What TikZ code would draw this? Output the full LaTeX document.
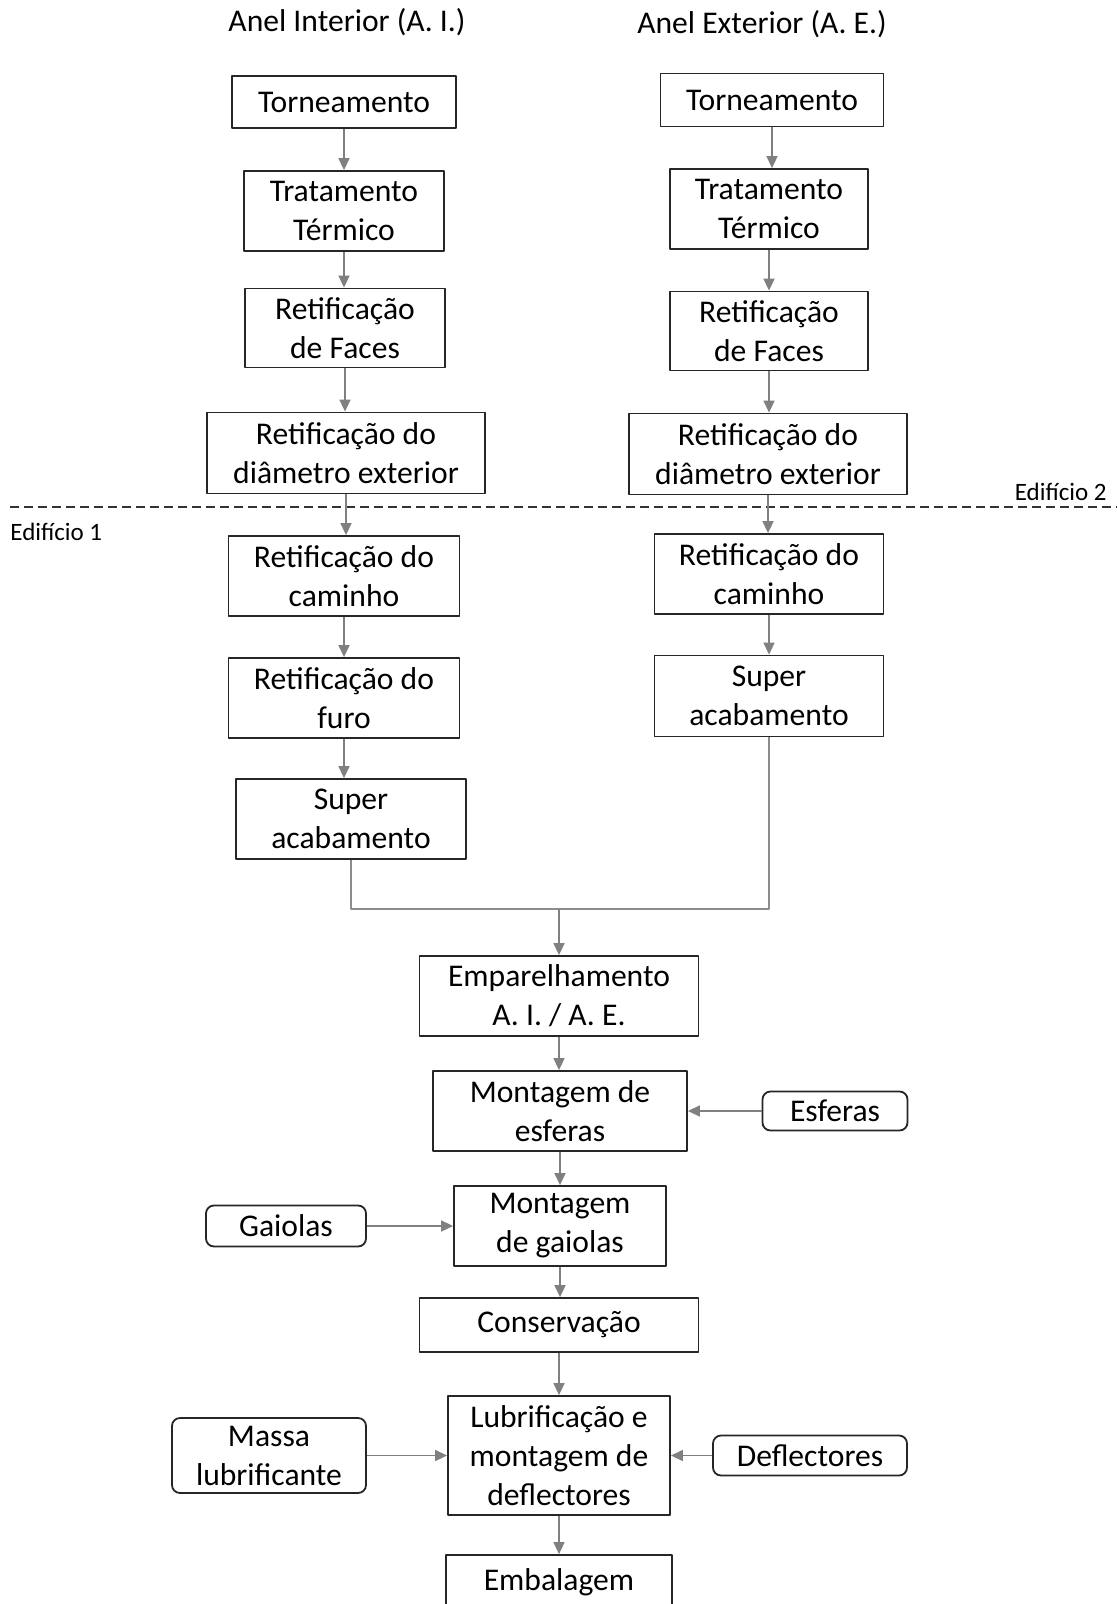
\documentclass[tikz,border=0pt]{standalone}
\usepackage{fontspec}
\setmainfont{Carlito}
\usetikzlibrary{arrows.meta}

\begin{document}
\begin{tikzpicture}[x=0.5pt,y=-0.5pt,>={Triangle[length=6pt,width=5.5pt]},line join=round,
  stepbox/.style={draw=black!85,line width=0.9pt,align=center,inner sep=0pt,font=\fontsize{15.8}{19.5}\selectfont},
  inbox/.style={stepbox,rounded corners=4pt},
  flow/.style={->,draw=black!50,fill=black!60,line width=0.8pt},
  link/.style={draw=black!45,line width=0.8pt},
  txt/.style={inner sep=0pt,font=\fontsize{15.8}{19.5}\selectfont},
  bld/.style={inner sep=0pt,font=\fontsize{12.5}{15}\selectfont}]
  \useasboundingbox (0,0) rectangle (1117,1604);
  % column headings
  \node[txt] (HI) at (347,22.5) {Anel Interior (A. I.)};
  \node[txt] (HE) at (762,24.5) {Anel Exterior (A. E.)};
  % building limit
  \coordinate (B0) at (10,507);
  \coordinate (B1) at (1117,507);
  \draw[draw=black!80,line width=1pt,dash pattern=on 4.5pt off 2.5pt] (B0) -- (B1);
  \node[bld,anchor=east] (ED2) at (1107,492) {Edifício 2};
  \node[bld,anchor=west] (ED1) at (10,532) {Edifício 1};
  % inner ring
  \node[stepbox,minimum width=112pt,minimum height=26pt] (AI1) at (344,102) {Torneamento};
  \node[stepbox,minimum width=100pt,minimum height=40pt] (AI2) at (344,211) {Tratamento\\Térmico};
  \node[stepbox,minimum width=100pt,minimum height=39.5pt] (AI3) at (345,328) {Retificação\\de Faces};
  \node[stepbox,minimum width=139pt,minimum height=40.5pt] (AI4) at (346,453) {Retificação do\\diâmetro exterior};
  \node[stepbox,minimum width=115.5pt,minimum height=40pt] (AI5) at (344,576) {Retificação do\\caminho};
  \node[stepbox,minimum width=115.5pt,minimum height=40pt] (AI6) at (344,698) {Retificação do\\furo};
  \node[stepbox,minimum width=115pt,minimum height=40pt] (AI7) at (351,819) {Super\\acabamento};
  % outer ring
  \node[stepbox,minimum width=111.5pt,minimum height=26.5pt] (AE1) at (772,100) {Torneamento};
  \node[stepbox,minimum width=99pt,minimum height=40pt] (AE2) at (769,209) {Tratamento\\Térmico};
  \node[stepbox,minimum width=99pt,minimum height=39.5pt] (AE3) at (769,331) {Retificação\\de Faces};
  \node[stepbox,minimum width=139pt,minimum height=40.5pt] (AE4) at (768,454) {Retificação do\\diâmetro exterior};
  \node[stepbox,minimum width=114.5pt,minimum height=40pt] (AE5) at (769,574) {Retificação do\\caminho};
  \node[stepbox,minimum width=114.5pt,minimum height=40.5pt] (AE6) at (769,696) {Super\\acabamento};
  % assembly
  \coordinate (J) at (559,909);
  \node[stepbox,minimum width=139.5pt,minimum height=40pt] (M1) at (559,996) {Emparelhamento\\A. I. / A. E.};
  \node[stepbox,minimum width=127pt,minimum height=40pt] (M2) at (560,1111) {Montagem de\\esferas};
  \node[stepbox,minimum width=106pt,minimum height=40pt] (M3) at (560,1226) {Montagem\\de gaiolas};
  \node[stepbox,minimum width=139.5pt,minimum height=27pt] (M4) at (559,1325) {Conservação};
  \node[stepbox,minimum width=111pt,minimum height=59.5pt] (M5) at (559,1455.5) {Lubrificação e\\montagem de\\deflectores};
  \node[stepbox,minimum width=113pt,minimum height=27pt] (M6) at (559,1582) {Embalagem};
  % inputs
  \node[inbox,minimum width=72.5pt,minimum height=19.5pt] (ES) at (835,1111) {Esferas};
  \node[inbox,minimum width=80pt,minimum height=20.5pt] (GA) at (286,1226) {Gaiolas};
  \node[inbox,minimum width=97pt,minimum height=37.5pt] (MA) at (269,1455.5) {Massa\\lubrificante};
  \node[inbox,minimum width=97pt,minimum height=20pt] (DE) at (810,1455.5) {Deflectores};
  % connectors
  \foreach \a/\b in {AI1/AI2,AI2/AI3,AI3/AI4,AI4/AI5,AI5/AI6,AI6/AI7,
                     AE1/AE2,AE2/AE3,AE3/AE4,AE4/AE5,AE5/AE6,
                     M1/M2,M2/M3,M3/M4,M4/M5,M5/M6}
    \draw[flow] (\a.south) -- (\a.south |- \b.north);
  \draw[link] (AI7.south) |- (J) -| (AE6.south);
  \draw[flow] (J) -- (M1.north);
  \draw[flow] (ES.west) -- (ES.west -| M2.east);
  \draw[flow] (GA.east) -- (GA.east -| M3.west);
  \draw[flow] (MA.east) -- (MA.east -| M5.west);
  \draw[flow] (DE.west) -- (DE.west -| M5.east);
\end{tikzpicture}
\end{document}
